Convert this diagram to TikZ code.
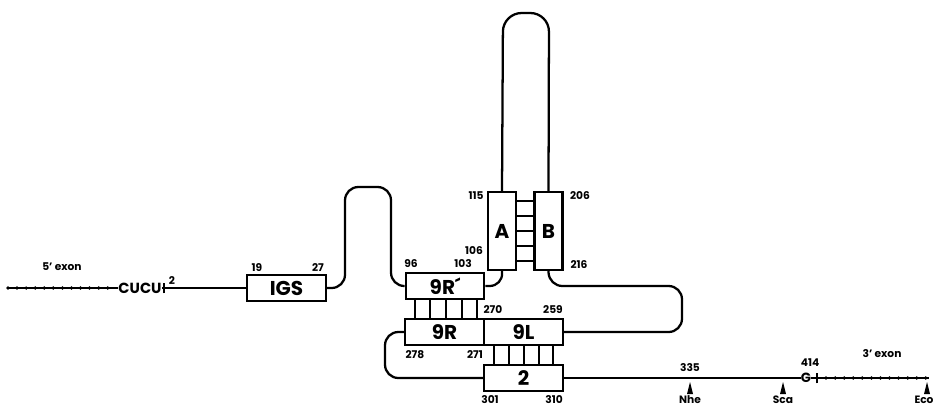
\documentclass[tikz,border=0pt]{standalone}
\usepackage{fontspec}
\setmainfont{Poppins}
\usetikzlibrary{positioning}

\begin{document}
\begin{tikzpicture}[
    x=0.75pt, y=-0.75pt,
    strand/.style={draw, line width=1.7pt, rounded corners=10pt},
    seg/.style={draw, line width=1.7pt, rectangle, minimum width=59pt, minimum height=19.5pt, inner sep=0pt, font=\fontsize{15}{15}\selectfont\bfseries},
    stem/.style={seg, minimum width=21pt, minimum height=58.5pt},
    num/.style={font=\fontsize{8}{8}\selectfont\bfseries, inner sep=0pt},
    pair/.style={draw, line width=1.7pt},
    exon/.style={draw, line width=0.8pt},
    dots/.style={draw, line width=2.8pt, dash pattern=on 0pt off 6.8pt, line cap=round},
    cut/.style={fill=black}
]
\useasboundingbox (0,0) rectangle (938,407);

% helices
\node[seg] (igs) at (286.5,288) {IGS};
\node[seg] (nineRp) at (445,286) {9R´};
\node[stem] (A) at (502,231) {A};
\node[stem] (B) at (548.5,231) {B};
\node[seg] (nineR) at (444.5,332) {9R};
\node[seg] (nineL) at (523.5,332) {9L};
\node[seg] (two) at (523.5,378) {2};

% exon ends
\coordinate (ex5) at (8,288);
\node[font=\fontsize{11}{11}\selectfont\bfseries, inner sep=0pt] (cucu) at (140,288) {CUCU};
\coordinate (ss5) at (164,288);
\node[font=\fontsize{10}{10}\selectfont\bfseries, inner sep=0pt] (g) at (806,378) {G};
\coordinate (ss3) at (817,378);
\coordinate (ex3) at (929,378);

\draw[exon] (ex5) -- (cucu.west);
\draw[dots] (ex5) -- ([xshift=-2pt]cucu.west);
\draw[pair] ([yshift=-4pt]ss5) -- ([yshift=4pt]ss5);
\draw[strand] (cucu.east) -- (igs.west);
\draw[strand] (two.east) -- (g.west);
\draw[pair] ([yshift=-4pt]ss3) -- ([yshift=4pt]ss3);
\draw[exon] (g.east) -- (ex3);
\draw[dots] (ss3) -- (ex3);

% loops
\draw[strand] (igs.east) -- (345,288) -- (345,187) -- (391,187) -- (391,286) -- (nineRp.west);
\draw[strand] (nineRp.east) -- (503,286) -- (A.south);
\draw[strand, rounded corners=14pt] (A.north) -- (503,13) -- (549,13) -- (B.north);
\draw[strand] (B.south) -- (549,286) -- (682,286) -- (682,332) -- (nineL.east);
\draw[strand] (nineR.west) -- (385,332) -- (385,378) -- (two.west);

% base pairs
\foreach \y in {201,216,231,246,261}
    \draw[pair] (516,\y) -- (534,\y);
\foreach \x in {415,430,446,462,477}
    \draw[pair] (\x,299) -- (\x,319);
\foreach \x in {494,509,524,539,553}
    \draw[pair] (\x,345) -- (\x,365);

% numbering
\node[num] (n2) at (172,281) {2};
\node[num] (n19) at (257,268) {19};
\node[num] (n27) at (318,268) {27};
\node[num] (n96) at (411,264) {96};
\node[num] (n103) at (463,264) {103};
\node[num] (n115) at (476,196) {115};
\node[num] (n106) at (474,251) {106};
\node[num] (n206) at (580,196) {206};
\node[num] (n216) at (579,265) {216};
\node[num] (n270) at (493,310) {270};
\node[num] (n259) at (553,310) {259};
\node[num] (n278) at (415,355) {278};
\node[num] (n271) at (475,355) {271};
\node[num] (n301) at (490,400) {301};
\node[num] (n310) at (554,400) {310};
\node[num] (n335) at (690,368) {335};
\node[num] (n414) at (810,363) {414};
\node[num] (lex5) at (62,267) {5' exon};
\node[num] (lex3) at (882,354) {3' exon};

% restriction sites
\coordinate (nhe) at (690,382);
\coordinate (sca) at (783,382);
\coordinate (eco) at (927,382);
\foreach \s in {nhe,sca,eco}
    \fill[cut] (\s) -- ++(3,12) -- ++(-6,0) -- cycle;
\node[num] at (690,400) {Nhe};
\node[num] at (783,400) {Sca};
\node[num] at (924,400) {Eco};
\end{tikzpicture}
\end{document}
